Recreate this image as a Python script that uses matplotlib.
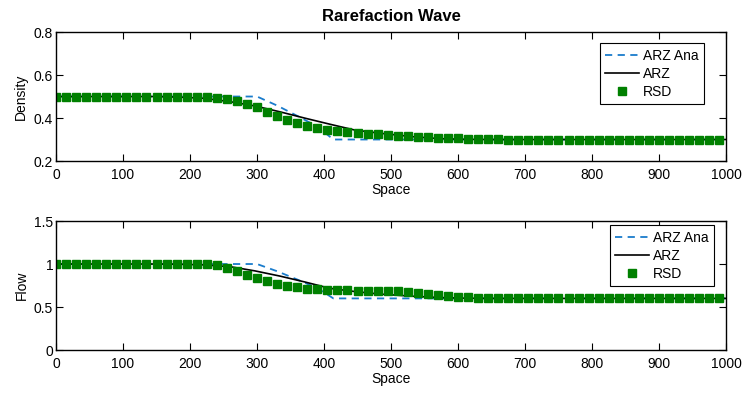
import numpy as np
import matplotlib.pyplot as plt

plt.rcParams['font.family'] = ['Liberation Sans', 'DejaVu Sans']
plt.rcParams['font.size'] = 10

# analytic ARZ solution (break points)
x_ana = [0, 300, 330, 360, 390, 414, 1000]
rho_ana = [0.5, 0.5, 0.458, 0.41, 0.36, 0.3, 0.3]
q_ana = [1.0, 1.0, 0.916, 0.82, 0.72, 0.6, 0.6]

# numerical ARZ
x_arz = [0, 150, 185, 220, 260, 297, 334, 372, 409, 446, 484, 533, 573, 610, 650, 700, 1000]
rho_arz = [0.5, 0.5, 0.497, 0.492, 0.476, 0.456, 0.429, 0.399, 0.371, 0.344, 0.329, 0.313, 0.304, 0.301, 0.3, 0.3, 0.3]
q_arz = [1.0, 1.0, 0.997, 0.99, 0.969, 0.92, 0.86, 0.79, 0.717, 0.68, 0.65, 0.625, 0.61, 0.603, 0.6, 0.6, 0.6]

# RSD, every 15 units
x_rsd = np.arange(0, 1000, 15)
rho_rsd_front = [0.5] * 15 + [0.497, 0.494, 0.489, 0.481, 0.466, 0.449, 0.428, 0.410, 0.391,
                             0.377, 0.365, 0.352, 0.344, 0.338, 0.334, 0.331, 0.327, 0.326,
                             0.322, 0.318, 0.316, 0.314, 0.312, 0.309, 0.307, 0.306, 0.304,
                             0.303, 0.302, 0.301]
rho_rsd = rho_rsd_front + [0.3] * (len(x_rsd) - len(rho_rsd_front))
q_rsd_front = [1.0] * 16 + [0.985, 0.953, 0.919, 0.876, 0.837, 0.802, 0.771, 0.748, 0.729,
                            0.713, 0.705, 0.698, 0.698, 0.694, 0.692, 0.69, 0.69, 0.689,
                            0.682, 0.67, 0.659, 0.647, 0.636, 0.628, 0.62, 0.615, 0.608,
                            0.604, 0.601]
q_rsd = q_rsd_front + [0.6] * (len(x_rsd) - len(q_rsd_front))

blue = '#1a7ccc'
green = '#008000'

fig = plt.figure(figsize=(7.43, 3.93), dpi=100)
ax1 = fig.add_axes([0.0754, 0.5903, 0.9017, 0.3282])
ax2 = fig.add_axes([0.0754, 0.1094, 0.9017, 0.3282])

panels = [
    (ax1, rho_ana, rho_arz, rho_rsd, 'Density', (0.2, 0.8), [0.2, 0.4, 0.6, 0.8], (0.967, 0.915)),
    (ax2, q_ana, q_arz, q_rsd, 'Flow', (0, 1.5), [0, 0.5, 1, 1.5], (0.982, 0.969)),
]
for ax, ana, arz, rsd, ylab, ylim, yt, anchor in panels:
    ax.plot(x_ana, ana, '--', color=blue, lw=1.3, dashes=(4, 3), label='ARZ Ana')
    ax.plot(x_arz, arz, '-', color='black', lw=1.2, label='ARZ')
    ax.plot(x_rsd, rsd, 's', color=green, ms=5.5, mec=green, label='RSD')
    ax.set_xlim(0, 1000)
    ax.set_ylim(*ylim)
    ax.set_xticks(np.arange(0, 1001, 100))
    ax.set_yticks(yt)
    ax.set_yticklabels([('%g' % v) for v in yt])
    ax.set_xlabel('Space', labelpad=1)
    ax.set_ylabel(ylab, labelpad=4)
    ax.tick_params(direction='in', top=True, right=True, length=5, width=0.8, pad=2)
    ax.tick_params(axis='x', pad=5)
    for s in ax.spines.values():
        s.set_linewidth(1.0)
    leg = ax.legend(loc='upper right', bbox_to_anchor=anchor, borderaxespad=0,
                    fancybox=False, edgecolor='black', framealpha=1, numpoints=1,
                    handlelength=2.4, handletextpad=0.3, borderpad=0.4, labelspacing=0.3)
    leg.get_frame().set_linewidth(0.8)

ax1.set_title('Rarefaction Wave', fontweight='bold', pad=8)

fig.savefig('out.png', dpi=100)
